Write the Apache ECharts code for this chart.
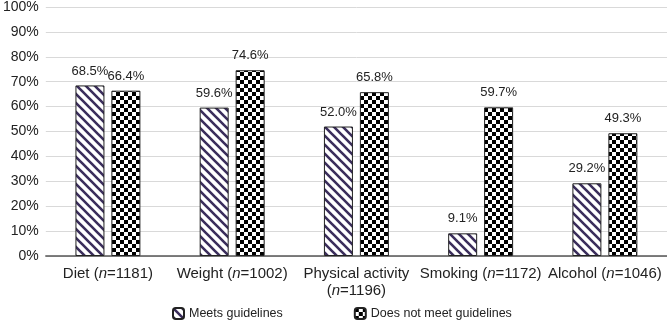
<!DOCTYPE html>
<html>
<head>
<meta charset="utf-8">
<script src="https://cdn.jsdelivr.net/npm/echarts@6/dist/echarts.min.js"></script>
<style>
  html, body { margin: 0; padding: 0; background: #fff; }
  #chart { width: 667px; height: 323px; }
</style>
</head>
<body>
<div id="chart"></div>
<script>
const categories = ['Diet', 'Weight', 'Physical activity', 'Smoking', 'Alcohol'];
const sampleSizes = ['1181', '1002', '1196', '1172', '1046'];
const meets = [68.5, 59.6, 52.0, 9.1, 29.2];
const doesNotMeet = [66.4, 74.6, 65.8, 59.7, 49.3];

function stripePattern() {
  const c = document.createElement('canvas');
  c.width = 9; c.height = 9;
  const ctx = c.getContext('2d');
  ctx.fillStyle = '#fff';
  ctx.fillRect(0, 0, 9, 9);
  ctx.strokeStyle = '#3b2e5c';
  ctx.lineWidth = 2.6;
  ctx.beginPath();
  for (let k = -9; k <= 18; k += 9) {
    ctx.moveTo(k - 9, -9);
    ctx.lineTo(k + 18, 18);
  }
  ctx.stroke();
  return c;
}

function checkerPattern() {
  const c = document.createElement('canvas');
  c.width = 8; c.height = 8;
  const ctx = c.getContext('2d');
  ctx.fillStyle = '#fff';
  ctx.fillRect(0, 0, 8, 8);
  ctx.fillStyle = '#000';
  ctx.fillRect(0, 0, 4, 4);
  ctx.fillRect(4, 4, 4, 4);
  return c;
}

const chart = echarts.init(document.getElementById('chart'));
const font = 'Liberation Sans, Arial, sans-serif';
const valueLabel = { show: true, position: 'top', distance: 8, fontSize: 13, color: '#222', formatter: p => p.value.toFixed(1) + '%' };

chart.setOption({
  animation: false,
  textStyle: { fontFamily: font },
  grid: { left: 42, right: 0, top: 7, bottom: 67 },
  legend: {
    top: 302,
    left: 167,
    itemWidth: 11,
    itemHeight: 11,
    itemGap: 71,
    textStyle: { fontSize: 12.5, color: '#222', fontFamily: font },
    data: ['Meets guidelines', 'Does not meet guidelines']
  },
  xAxis: {
    type: 'category',
    data: categories,
    axisLine: { lineStyle: { color: '#555', width: 1.5 } },
    axisTick: { show: false },
    axisLabel: {
      interval: 0,
      margin: 9,
      fontSize: 15,
      color: '#222',
      lineHeight: 17,
      formatter: (v, i) => {
        const sep = v === 'Physical activity' ? '\n' : ' ';
        return v + sep + '({it|n}=' + sampleSizes[i] + ')';
      },
      rich: { it: { fontStyle: 'italic', fontSize: 15, color: '#222' } }
    }
  },
  yAxis: {
    type: 'value',
    min: 0,
    max: 100,
    interval: 10,
    axisLabel: { formatter: '{value}%', fontSize: 14, color: '#222', margin: 7 },
    splitLine: { lineStyle: { color: '#d9d9d9' } },
    axisLine: { show: false },
    axisTick: { show: false }
  },
  series: [
    {
      name: 'Meets guidelines',
      type: 'bar',
      data: meets,
      barWidth: 29,
      barGap: '24%',
      itemStyle: { color: { image: stripePattern(), repeat: 'repeat' }, borderColor: '#222', borderWidth: 1 },
      label: valueLabel
    },
    {
      name: 'Does not meet guidelines',
      type: 'bar',
      data: doesNotMeet,
      barWidth: 29,
      itemStyle: { color: { image: checkerPattern(), repeat: 'repeat' }, borderColor: '#222', borderWidth: 1 },
      label: valueLabel
    }
  ]
});
</script>
</body>
</html>
